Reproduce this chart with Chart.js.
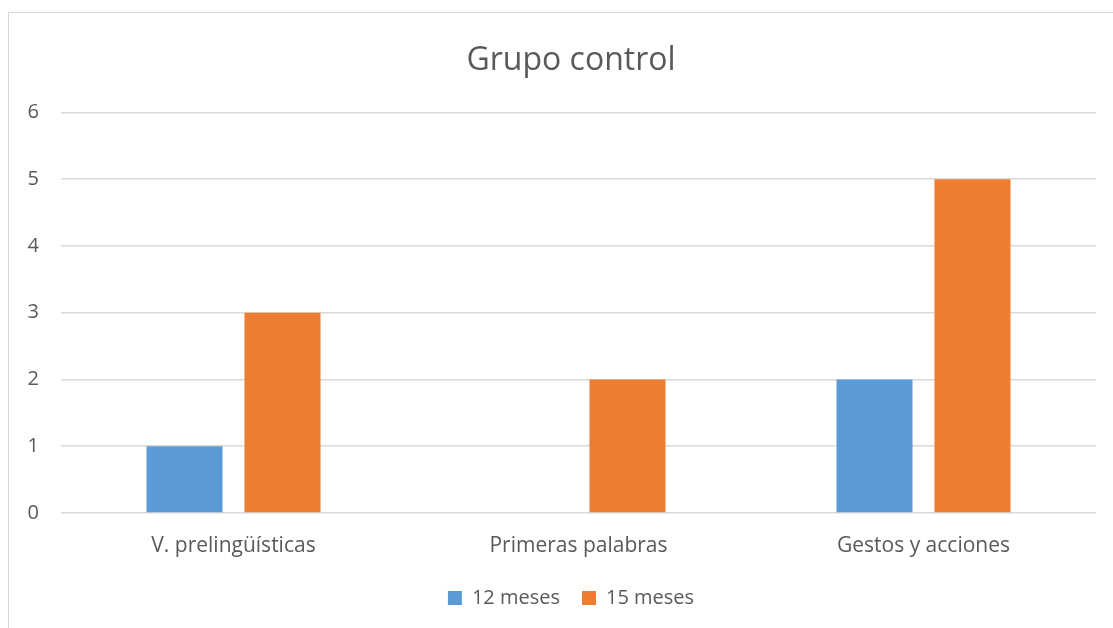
<!DOCTYPE html>
<html>
<head>
<meta charset="utf-8">
<script src="https://cdn.jsdelivr.net/npm/chart.js@4/dist/chart.umd.min.js"></script>
<style>
html,body{margin:0;padding:0;background:#fff;overflow:hidden;width:1113px;height:628px;}
#frame{position:absolute;left:8px;top:12px;width:1200px;height:700px;border:1.5px solid #D9D9D9;box-sizing:border-box;}
#wrap{position:absolute;left:0;top:0;width:1113px;height:628px;}
</style>
</head>
<body>
<div id="frame"></div>
<div id="wrap"><canvas id="c"></canvas></div>
<script>
const categories = ["V. prelingüísticas", "Primeras palabras", "Gestos y acciones"];
const series12 = [1, 0, 2];
const series15 = [3, 2, 5];
const seriesNames = ["12 meses", "15 meses"];
const titleText = "Grupo control";

const FONT = "'Open Sans', sans-serif";
const TXT = "#595959";

new Chart(document.getElementById('c'), {
  type: 'bar',
  data: {
    labels: categories,
    datasets: [
      {label: seriesNames[0], data: series12, backgroundColor: '#5B9BD5', categoryPercentage: 0.568, barPercentage: 0.776},
      {label: seriesNames[1], data: series15, backgroundColor: '#ED7D31', categoryPercentage: 0.568, barPercentage: 0.776}
    ]
  },
  options: {
    responsive: true,
    maintainAspectRatio: false,
    animation: false,
    devicePixelRatio: 1,
    layout: {padding: {left: 46, right: 17, top: 0, bottom: 10}},
    plugins: {
      title: {display: true, text: titleText, color: TXT, font: {family: FONT, size: 32, weight: 'normal'}, padding: {top: 42, bottom: 32}},
      legend: {position: 'bottom', labels: {color: TXT, font: {family: FONT, size: 20}, boxWidth: 14, boxHeight: 14, padding: 22}},
      tooltip: {enabled: false}
    },
    scales: {
      x: {
        afterFit: (s) => { s.height = 53; },
        grid: {display: false, drawTicks: false},
        border: {display: false},
        ticks: {color: TXT, font: {family: FONT, size: 21}, padding: 20}
      },
      y: {
        min: 0, max: 6,
        afterFit: (s) => { s.width = 15; s._computeLabelArea = () => undefined; },
        grid: {color: '#D9D9D9', lineWidth: 1.5, drawTicks: false},
        border: {display: false},
        ticks: {stepSize: 1, color: TXT, font: {family: FONT, size: 20}, padding: 22}
      }
    }
  }
});
</script>
</body>
</html>
